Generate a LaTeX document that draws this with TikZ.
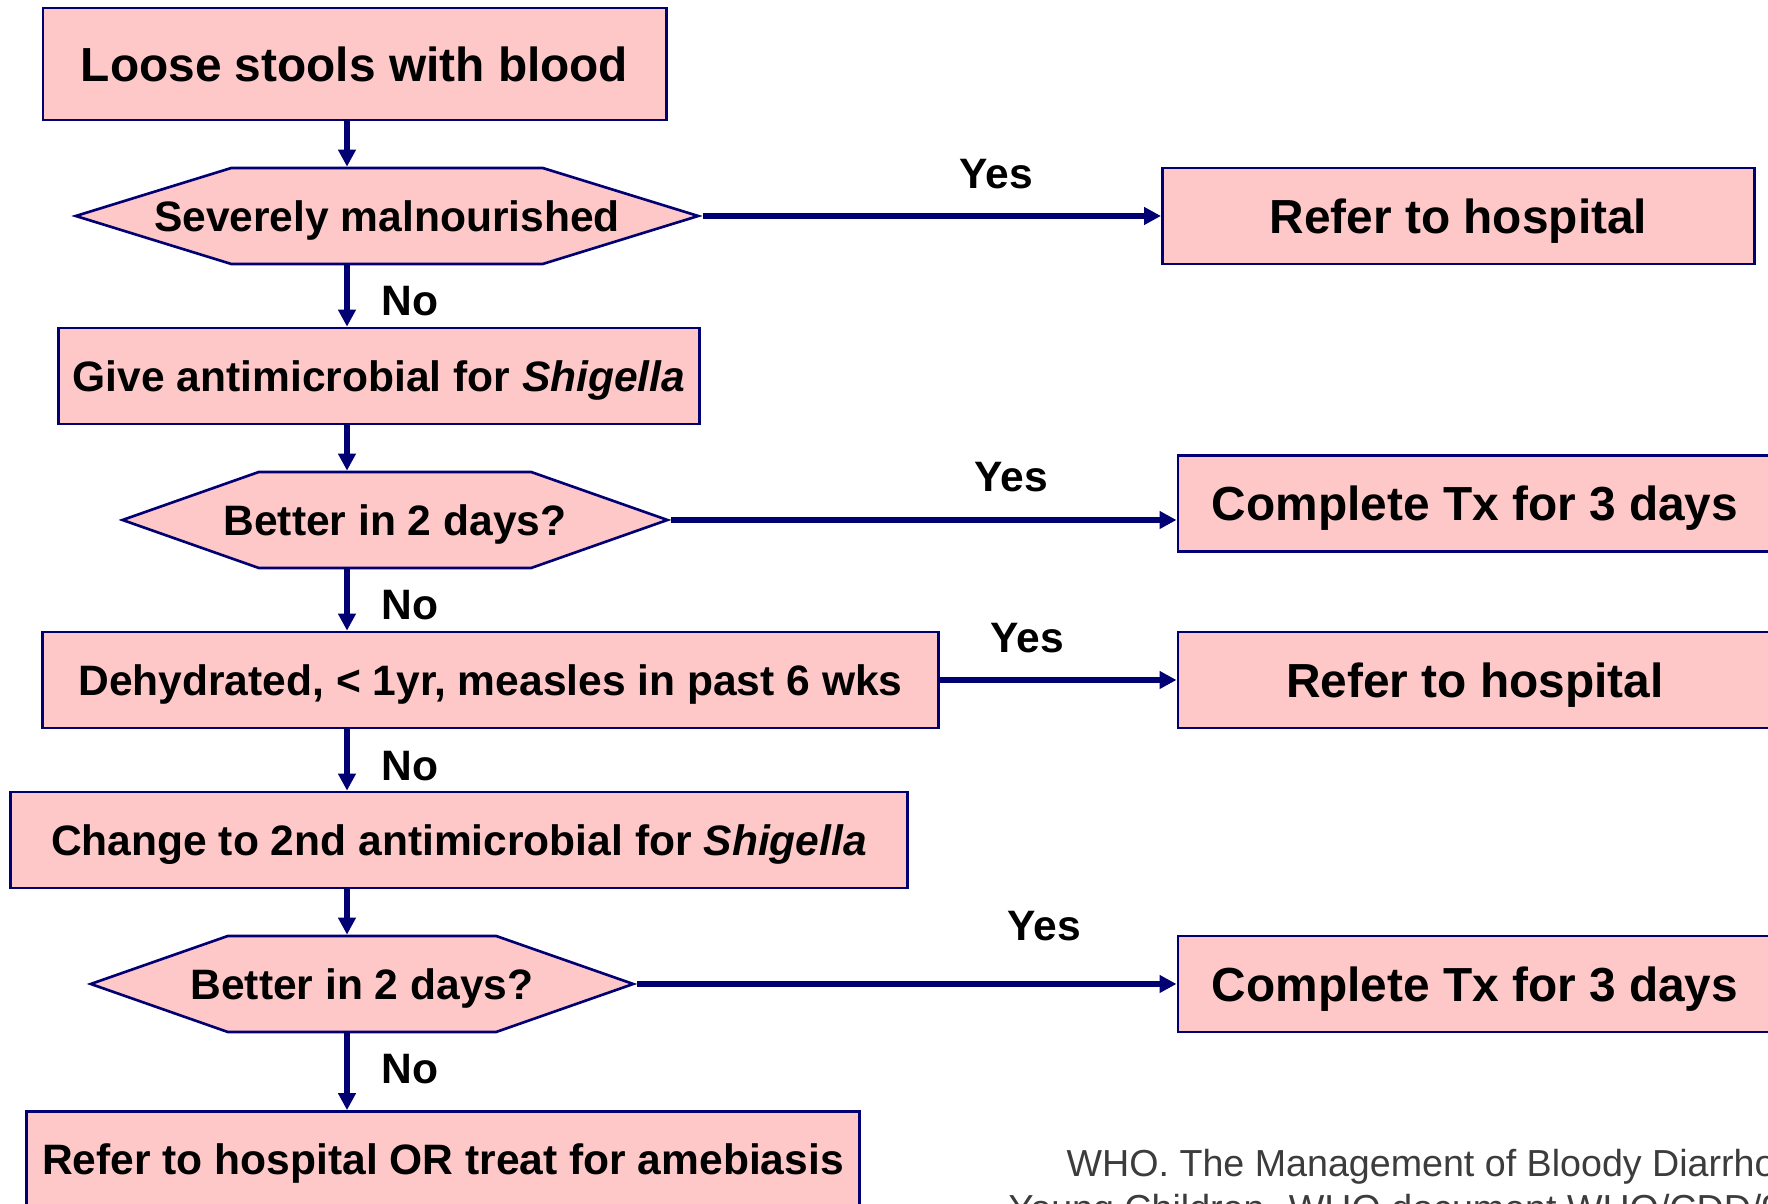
\documentclass[tikz,border=0pt]{standalone}
\usepackage{fontspec}
\setmainfont{Liberation Sans}
\usepackage{xcolor}
\definecolor{boxfill}{HTML}{FFC8C8}
\definecolor{navy}{HTML}{000072}
\definecolor{citegray}{HTML}{3C3C3C}
\usetikzlibrary{arrows.meta,shapes.symbols}

% text of a decision, set on a box narrower than itself
\newcommand{\decisiontext}[2]{\makebox[#1][c]{#2}}

\begin{document}
\begin{tikzpicture}[
  x=0.01cm,y=-0.01cm,
  box/.style={rectangle,draw=navy,fill=boxfill,line width=0.75pt,
    inner sep=0pt,minimum height=0.96cm,text=black,text depth=0pt,
    font=\fontsize{12.1pt}{14pt}\selectfont\bfseries},
  bigbox/.style={box,font=\fontsize{13.6pt}{16pt}\selectfont\bfseries},
  decision/.style={box,shape=signal,signal to=east and west,
    signal pointer angle=#1},
  arr/.style={-{Triangle[length=0.17cm,width=0.17cm]},draw=navy,line width=1.5pt},
  lbl/.style={font=\fontsize{12.1pt}{14pt}\selectfont\bfseries,inner sep=0pt},
  cite/.style={font=\fontsize{10.7pt}{12pt}\selectfont,text=citegray,inner sep=0pt}
]
  \useasboundingbox (0,0) rectangle (1768,1204);
  \clip (0,0) rectangle (1768,1204);
  \coordinate (col) at (347,0);

  % main column
  \node[bigbox,minimum width=6.23cm,minimum height=1.12cm] (blood) at (354.5,64) {Loose stools with blood};
  \node[decision=34.3] (sam) at (387,216) {\decisiontext{3.11cm}{Severely malnourished}};
  \node[box,minimum width=6.40cm] (abx1) at (379,376) {Give antimicrobial for \textit{Shigella}};
  \node[decision=38.8] (better1) at (395,520) {\decisiontext{2.72cm}{Better in 2 days?}};
  \node[box,minimum width=8.95cm] (risk) at (490.5,680) {Dehydrated, < 1yr, measles in past 6 wks};
  \node[box,minimum width=8.96cm] (abx2) at (459,840) {Change to 2nd antimicrobial for \textit{Shigella}};
  \node[decision=38.6] (better2) at (362,984) {\decisiontext{2.68cm}{Better in 2 days?}};
  \node[box,minimum width=8.32cm] (amoeba) at (443,1159.5) {Refer to hospital OR treat for amebiasis};

  % outcomes
  \node[bigbox,minimum width=5.92cm] (hosp1) at (1458.5,216) {Refer to hospital};
  \node[bigbox,minimum width=5.94cm] (tx1) at (1475,503.5) {Complete Tx for 3 days};
  \node[bigbox,minimum width=5.94cm] (hosp2) at (1475,680) {Refer to hospital};
  \node[bigbox,minimum width=5.94cm] (tx2) at (1475,984) {Complete Tx for 3 days};

  \draw[arr] (blood.south -| col) -- (sam.north -| col);
  \draw[arr] (sam.south -| col) -- (abx1.north -| col);
  \draw[arr] (abx1.south -| col) -- (better1.north -| col);
  \draw[arr] (better1.south -| col) -- (risk.north -| col);
  \draw[arr] (risk.south -| col) -- (abx2.north -| col);
  \draw[arr] (abx2.south -| col) -- (better2.north -| col);
  \draw[arr] (better2.south -| col) -- (amoeba.north -| col);

  \draw[arr] (sam.east) -- (hosp1.west);
  \draw[arr] (better1.east) -- (better1.east -| tx1.west);
  \draw[arr] (risk.east) -- (hosp2.west);
  \draw[arr] (better2.east) -- (tx2.west);

  \node[lbl] (yes1) at (996,174) {Yes};
  \node[lbl] (yes2) at (1011,477) {Yes};
  \node[lbl] (yes3) at (1027,638) {Yes};
  \node[lbl] (yes4) at (1044,926) {Yes};
  \node[lbl] (no1) at (410,301) {No};
  \node[lbl] (no2) at (410,605.5) {No};
  \node[lbl] (no3) at (410,765.6) {No};
  \node[lbl] (no4) at (410,1069) {No};

  \node[cite,anchor=base west] (cite1) at (1066,1177) {WHO. The Management of Bloody Diarrhoea in};
  \node[cite,anchor=base west] (cite2) at (1008,1222) {Young Children. WHO document WHO/CDD/94.49};
\end{tikzpicture}
\end{document}
